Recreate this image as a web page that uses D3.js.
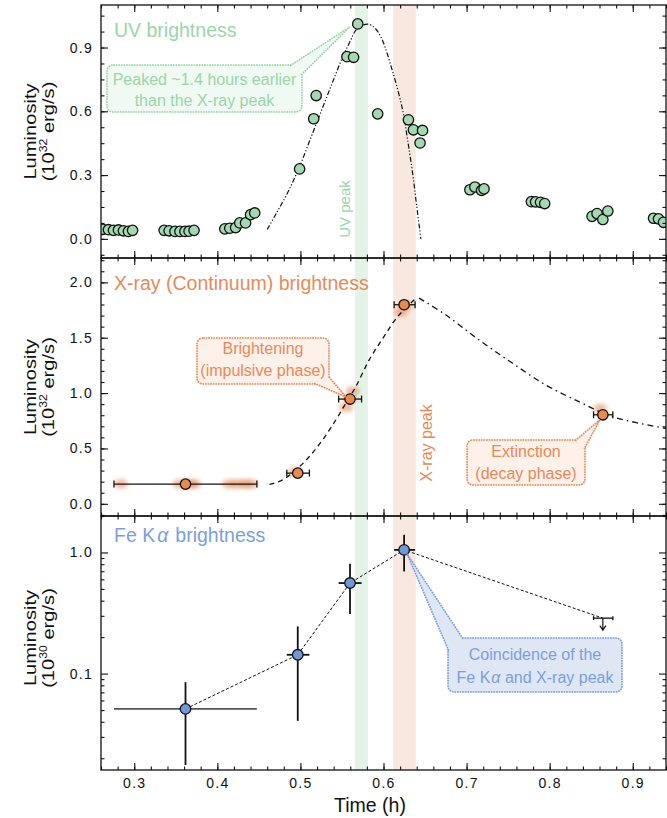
<!DOCTYPE html>
<html>
<head>
<meta charset="utf-8">
<script src="https://cdn.jsdelivr.net/npm/d3@7"></script>
<style>
  body { margin: 0; background: #fff; }
  svg text { font-family: "Liberation Sans", Arial, sans-serif; }
</style>
</head>
<body>
<svg id="chart" width="667" height="818"></svg>
<script>
// ---- UV light curve (10^32 erg/s) ----
var uvTime = [0.262, 0.269, 0.275, 0.281, 0.287, 0.293, 0.298,
              0.336, 0.342, 0.349, 0.355, 0.361, 0.366, 0.372,
              0.409, 0.415, 0.422, 0.427, 0.434, 0.440, 0.445,
              0.499, 0.516, 0.519, 0.556, 0.564, 0.569, 0.593,
              0.630, 0.636, 0.647, 0.644,
              0.704, 0.710, 0.718, 0.721,
              0.778, 0.783, 0.789, 0.794,
              0.851, 0.857, 0.864, 0.870,
              0.925, 0.931, 0.937];
var uvLum = [0.045, 0.043, 0.040, 0.042, 0.038, 0.035, 0.040,
             0.040, 0.038, 0.035, 0.035, 0.035, 0.036, 0.040,
             0.047, 0.050, 0.053, 0.075, 0.075, 0.114, 0.122,
             0.329, 0.565, 0.674, 0.857, 0.854, 1.011, 0.588,
             0.560, 0.513, 0.510, 0.451,
             0.231, 0.244, 0.228, 0.235,
             0.175, 0.174, 0.172, 0.166,
             0.106, 0.119, 0.091, 0.131,
             0.097, 0.094, 0.078];
// model curve
var uvModelTime = [0.460, 0.471, 0.485, 0.499, 0.513, 0.527, 0.540, 0.551, 0.560, 0.567,
                   0.575, 0.582, 0.590, 0.598, 0.611, 0.623, 0.629, 0.635, 0.640, 0.645];
var uvModelLum = [0.044, 0.120, 0.220, 0.340, 0.480, 0.620, 0.750, 0.857, 0.930, 0.983,
                  1.005, 1.010, 0.990, 0.940, 0.787, 0.607, 0.466, 0.310, 0.153, 0.000];

// ---- X-ray continuum (10^32 erg/s) ----
var xrayTime = [0.3617, 0.4968, 0.5597, 0.6248, 0.864];
var xrayLum = [0.178, 0.277, 0.946, 1.798, 0.804];
var xrayTimeLo = [0.2756, 0.4836, 0.5460, 0.6128, 0.8528];
var xrayTimeHi = [0.4476, 0.5108, 0.5736, 0.6380, 0.8760];
// finer bins (blurred blobs behind the points)
var xraySubTime = [0.284, 0.355, 0.366, 0.372, 0.414, 0.424, 0.433, 0.441, 0.494, 0.555, 0.559, 0.563, 0.621, 0.627, 0.861];
var xraySubLum = [0.18, 0.18, 0.18, 0.18, 0.18, 0.18, 0.18, 0.18, 0.29, 0.87, 0.95, 1.02, 1.73, 1.79, 0.86];
// rise (dashed) and decay (dash-dot) model curves
var xrayRiseTime = [0.4628, 0.4788, 0.4948, 0.5108, 0.5268, 0.5428, 0.5548, 0.5668, 0.5828, 0.5988, 0.6170, 0.6380];
var xrayRiseLum = [0.175, 0.217, 0.307, 0.427, 0.578, 0.759, 0.910, 1.060, 1.300, 1.490, 1.690, 1.850];
var xrayDecayTime = [0.6428, 0.6748, 0.7148, 0.7550, 0.7948, 0.8348, 0.8748, 0.9400];
var xrayDecayLum = [1.858, 1.707, 1.481, 1.271, 1.075, 0.924, 0.789, 0.680];

// ---- Fe K alpha line (10^30 erg/s) ----
var feTime = [0.3617, 0.4968, 0.5597, 0.6248];
var feLum = [0.0511, 0.143, 0.559, 1.05];
var feTimeLo = [0.2756, 0.4836, 0.5460, 0.6128];
var feTimeHi = [0.4476, 0.5108, 0.5736, 0.6380];
var feLumLo = [0.0176, 0.0407, 0.310, 0.697];
var feLumHi = [0.0849, 0.245, 0.806, 1.40];
var feLimitTime = [0.864];
var feLimitTimeLo = [0.8528];
var feLimitTimeHi = [0.876];
var feLimitLum = [0.287];

// shaded peak windows
var uvPeakBand = [0.5656, 0.5812];
var xrayPeakBand = [0.6116, 0.6389];

// ticks
var timeTicks = [0.3, 0.4, 0.5, 0.6, 0.7, 0.8, 0.9];
var uvTicks = [0.0, 0.3, 0.6, 0.9];
var xrayTicks = [0.0, 0.5, 1.0, 1.5, 2.0];
var feTicks = [0.1, 1.0];
var feMinorTicks = [0.02, 0.03, 0.04, 0.05, 0.06, 0.07, 0.08, 0.09,
                    0.2, 0.3, 0.4, 0.5, 0.6, 0.7, 0.8, 0.9, 2.0];

var GREEN = "#9bd5ab", GREEN_FILL = "#a3d8b2", GREEN_BAND = "#e4f3e7";
var ORANGE = "#e8895a", ORANGE_FILL = "#e98a52", ORANGE_BAND = "#f9e8e0";
var BLUE = "#7a9fdc", BLUE_FILL = "#7098d8";

var svg = d3.select("#chart");
var left = 101, right = 666;

var x = d3.scaleLinear().domain([0.26, 0.94]).range([left, right]);

var panels = [
  { id: "uv", top: 5, bottom: 258 },
  { id: "xray", top: 258, bottom: 516 },
  { id: "fe", top: 516, bottom: 770 }
];
var yUV = d3.scaleLinear().domain([-0.09, 1.1]).range([258, 5]);
var yX = d3.scaleLinear().domain([-0.11, 2.22]).range([516, 258]);
var yFe = d3.scaleLog().domain([0.016, 2.0]).range([770, 516]);

var defs = svg.append("defs");
defs.append("filter").attr("id", "smudge")
    .attr("x", "-50%").attr("y", "-50%").attr("width", "200%").attr("height", "200%")
  .append("feGaussianBlur").attr("stdDeviation", 2);

panels.forEach(function(p){
  defs.append("clipPath").attr("id", "clip-" + p.id)
    .append("rect")
    .attr("x", left).attr("y", p.top)
    .attr("width", right - left).attr("height", p.bottom - p.top);
});

// background bands across all panels
panels.forEach(function(p){
  var g = svg.append("g");
  [[uvPeakBand, GREEN_BAND], [xrayPeakBand, ORANGE_BAND]].forEach(function(b){
    g.append("rect")
      .attr("x", x(b[0][0])).attr("width", x(b[0][1]) - x(b[0][0]))
      .attr("y", p.top).attr("height", p.bottom - p.top)
      .attr("fill", b[1]);
  });
});

/**
 * Draws inward ticks on all four sides of a panel.
 */
function drawFrame(p, y, majorY, minorY, fmt, showX){
  var g = svg.append("g");
  function ax(gen, tx, ty){
    var a = g.append("g").attr("transform", "translate(" + tx + "," + ty + ")").call(gen);
    a.select(".domain").remove();
    a.selectAll(".tick line").attr("stroke", "#111").attr("stroke-width", 1.1);
    return a;
  }
  var xMinor = d3.range(0.26, 0.9401, 0.02);
  ax(d3.axisBottom(x).tickValues(xMinor).tickSize(-3.5).tickFormat(""), 0, p.bottom);
  ax(d3.axisTop(x).tickValues(xMinor).tickSize(-3.5).tickFormat(""), 0, p.top);
  ax(d3.axisTop(x).tickValues(timeTicks).tickSize(-7).tickFormat(""), 0, p.top);
  var xb = ax(d3.axisBottom(x).tickValues(timeTicks).tickSize(-7).tickPadding(8)
             .tickFormat(showX ? d3.format(".1f") : ""), 0, p.bottom);
  xb.selectAll("text").attr("font-size", 14).attr("letter-spacing", "1.3px")
    .attr("fill", "#111").style("font-family", "'Liberation Sans', Arial, sans-serif");

  ax(d3.axisLeft(y).tickValues(minorY).tickSize(-3.5).tickFormat(""), left, 0);
  ax(d3.axisRight(y).tickValues(minorY).tickSize(-3.5).tickFormat(""), right, 0);
  ax(d3.axisRight(y).tickValues(majorY).tickSize(-7).tickFormat(""), right, 0);
  var yl = ax(d3.axisLeft(y).tickValues(majorY).tickSize(-7).tickPadding(8).tickFormat(fmt), left, 0);
  yl.selectAll("text").attr("font-size", 14).attr("letter-spacing", "1.3px")
    .attr("fill", "#111").style("font-family", "'Liberation Sans', Arial, sans-serif");

  g.append("rect")
    .attr("x", left).attr("y", p.top)
    .attr("width", right - left).attr("height", p.bottom - p.top)
    .attr("fill", "none").attr("stroke", "#111").attr("stroke-width", 1.3);
}

function yLabel(cy, exp){
  var g = svg.append("g").attr("fill", "#111");
  g.append("text")
    .attr("transform", "translate(35.5," + cy + ") rotate(-90) scale(1.22,1)")
    .attr("text-anchor", "middle").attr("font-size", 16.5)
    .text("Luminosity");
  var t = g.append("text")
    .attr("transform", "translate(53.5," + cy + ") rotate(-90) scale(1.22,1)")
    .attr("text-anchor", "middle").attr("font-size", 16.5);
  t.append("tspan").text("(10");
  t.append("tspan").attr("font-size", 10).attr("dy", -6.5).text(exp);
  t.append("tspan").attr("dy", 6.5).text(" erg/s)");
}

/**
 * Speech-bubble style annotation: box, wedge pointing at tip, text lines.
 */
function callout(box, wedge, lines, stroke, fill, textColor){
  var g = svg.append("g");
  g.append("rect")
    .attr("x", box.x0).attr("y", box.y0)
    .attr("width", box.x1 - box.x0).attr("height", box.y1 - box.y0)
    .attr("rx", 6)
    .attr("fill", fill).attr("stroke", stroke)
    .attr("stroke-width", 1.6).attr("stroke-dasharray", "1.8,0.8");
  g.append("path")
    .attr("d", "M" + wedge[0] + "L" + wedge[1] + "L" + wedge[2])
    .attr("fill", fill).attr("stroke", stroke)
    .attr("stroke-width", 1.6).attr("stroke-dasharray", "1.8,0.8");
  var cx = (box.x0 + box.x1) / 2;
  lines.forEach(function(l){
    var t = g.append("text")
      .attr("x", cx).attr("y", box.y0 + l.dy)
      .attr("text-anchor", "middle").attr("font-size", 16)
      .attr("fill", textColor);
    l.parts.forEach(function(pt){
      var s = t.append("tspan").text(pt.text);
      if (pt.italic) s.attr("font-style", "italic").attr("dx", 1);
    });
  });
}

// ================= Panel 1 : UV =================
var p1 = panels[0];
var g1 = svg.append("g").attr("clip-path", "url(#clip-uv)");

g1.append("text")
  .attr("transform", "translate(350,209) rotate(-90)")
  .attr("text-anchor", "middle").attr("font-size", 15)
  .attr("fill", GREEN).text("UV peak");

var uvModel = d3.range(uvModelTime.length).map(function(i){ return [uvModelTime[i], uvModelLum[i]]; });
g1.append("path")
  .attr("d", d3.line().x(function(d){ return x(d[0]); }).y(function(d){ return yUV(d[1]); })
              .curve(d3.curveCatmullRom)(uvModel))
  .attr("fill", "none").attr("stroke", "#111").attr("stroke-width", 1.2)
  .attr("stroke-dasharray", "5,2,1.2,2,1.2,2");

g1.selectAll("circle.uv")
  .data(d3.range(uvTime.length))
  .enter().append("circle")
  .attr("class", "uv")
  .attr("cx", function(i){ return x(uvTime[i]); })
  .attr("cy", function(i){ return yUV(uvLum[i]); })
  .attr("r", 5.2)
  .attr("fill", GREEN_FILL).attr("stroke", "#111").attr("stroke-width", 1.3);

drawFrame(p1, yUV, uvTicks, d3.range(-0.075, 1.1, 0.075), d3.format(".1f"), false);
yLabel((p1.top + p1.bottom) / 2, "32");

svg.append("text").attr("x", 114).attr("y", 37)
  .attr("font-size", 19.5).attr("fill", GREEN).text("UV brightness");

var uvPeakIdx = uvLum.indexOf(d3.max(uvLum));
var tipUV = [x(uvTime[uvPeakIdx]) - 8, yUV(uvLum[uvPeakIdx]) + 3];
callout({x0: 107, y0: 65, x1: 302, y1: 112},
        [[290, 65.8], tipUV, [301.2, 75]],
        [{dy: 19.5, parts: [{text: "Peaked ~1.4 hours earlier"}]},
         {dy: 41, parts: [{text: "than the X-ray peak"}]}],
        GREEN, "#f0f9f2", GREEN);

// ================= Panel 2 : X-ray =================
var p2 = panels[1];
var g2 = svg.append("g").attr("clip-path", "url(#clip-xray)");

g2.append("text")
  .attr("transform", "translate(432,443) rotate(-90)")
  .attr("text-anchor", "middle").attr("font-size", 16)
  .attr("fill", ORANGE).text("X-ray peak");

g2.selectAll("ellipse.sub")
  .data(d3.range(xraySubTime.length))
  .enter().append("ellipse")
  .attr("cx", function(i){ return x(xraySubTime[i]); })
  .attr("cy", function(i){ return yX(xraySubLum[i]); })
  .attr("rx", 7).attr("ry", 4.5)
  .attr("fill", "#e0824a").attr("opacity", 0.55)
  .attr("filter", "url(#smudge)");

var lineX = d3.line().x(function(d){ return x(d[0]); }).y(function(d){ return yX(d[1]); })
  .curve(d3.curveCatmullRom);
g2.append("path")
  .attr("d", lineX(d3.range(xrayRiseTime.length).map(function(i){ return [xrayRiseTime[i], xrayRiseLum[i]]; })))
  .attr("fill", "none").attr("stroke", "#111").attr("stroke-width", 1.3)
  .attr("stroke-dasharray", "5,4");
g2.append("path")
  .attr("d", lineX(d3.range(xrayDecayTime.length).map(function(i){ return [xrayDecayTime[i], xrayDecayLum[i]]; })))
  .attr("fill", "none").attr("stroke", "#111").attr("stroke-width", 1.3)
  .attr("stroke-dasharray", "6,4,1.5,4");

var eb = g2.selectAll("g.eb").data(d3.range(xrayTime.length)).enter().append("g");
eb.append("line")
  .attr("x1", function(i){ return x(xrayTimeLo[i]); })
  .attr("x2", function(i){ return x(xrayTimeHi[i]); })
  .attr("y1", function(i){ return yX(xrayLum[i]); })
  .attr("y2", function(i){ return yX(xrayLum[i]); })
  .attr("stroke", "#111").attr("stroke-width", 1.3);
[xrayTimeLo, xrayTimeHi].forEach(function(arr){
  eb.append("line")
    .attr("x1", function(i){ return x(arr[i]); })
    .attr("x2", function(i){ return x(arr[i]); })
    .attr("y1", function(i){ return yX(xrayLum[i]) - 3.5; })
    .attr("y2", function(i){ return yX(xrayLum[i]) + 3.5; })
    .attr("stroke", "#111").attr("stroke-width", 1.3);
});
eb.append("circle")
  .attr("cx", function(i){ return x(xrayTime[i]); })
  .attr("cy", function(i){ return yX(xrayLum[i]); })
  .attr("r", 5.2)
  .attr("fill", ORANGE_FILL).attr("stroke", "#111").attr("stroke-width", 1.3);

drawFrame(p2, yX, xrayTicks, d3.range(-0.1, 2.25, 0.1), d3.format(".1f"), false);
yLabel((p2.top + p2.bottom) / 2, "32");

svg.append("text").attr("x", 114).attr("y", 290)
  .attr("font-size", 19.5).attr("fill", ORANGE).text("X-ray (Continuum) brightness");

callout({x0: 197, y0: 338, x1: 329, y1: 384},
        [[314, 383.2], [x(xrayTime[2]) - 4, yX(xrayLum[2]) - 2], [328.2, 376]],
        [{dy: 16, parts: [{text: "Brightening"}]},
         {dy: 37.5, parts: [{text: "(impulsive phase)"}]}],
        ORANGE, "#fdf1ea", ORANGE);

callout({x0: 467, y0: 440, x1: 585, y1: 485},
        [[575, 440.8], [x(xrayTime[4]) - 3, yX(xrayLum[4]) + 5], [584.2, 449]],
        [{dy: 17, parts: [{text: "Extinction"}]},
         {dy: 38.5, parts: [{text: "(decay phase)"}]}],
        ORANGE, "#fdf1ea", ORANGE);

// ================= Panel 3 : Fe K alpha =================
var p3 = panels[2];
var g3 = svg.append("g").attr("clip-path", "url(#clip-fe)");

var fePts = d3.range(feTime.length).map(function(i){ return [feTime[i], feLum[i]]; });
fePts.push([feLimitTime[0], feLimitLum[0]]);
g3.append("path")
  .attr("d", d3.line().x(function(d){ return x(d[0]); }).y(function(d){ return yFe(d[1]); })(fePts))
  .attr("fill", "none").attr("stroke", "#111").attr("stroke-width", 1)
  .attr("stroke-dasharray", "3,2");

var fe = g3.selectAll("g.fe").data(d3.range(feTime.length)).enter().append("g");
fe.append("line")
  .attr("x1", function(i){ return x(feTimeLo[i]); })
  .attr("x2", function(i){ return x(feTimeHi[i]); })
  .attr("y1", function(i){ return yFe(feLum[i]); })
  .attr("y2", function(i){ return yFe(feLum[i]); })
  .attr("stroke", function(i){ return i === 0 ? "#555" : "#111"; })
  .attr("stroke-width", 1.8);
fe.append("line")
  .attr("x1", function(i){ return x(feTime[i]); })
  .attr("x2", function(i){ return x(feTime[i]); })
  .attr("y1", function(i){ return yFe(feLumLo[i]); })
  .attr("y2", function(i){ return yFe(feLumHi[i]); })
  .attr("stroke", "#111").attr("stroke-width", 1.8);
fe.append("circle")
  .attr("cx", function(i){ return x(feTime[i]); })
  .attr("cy", function(i){ return yFe(feLum[i]); })
  .attr("r", 5.3)
  .attr("fill", BLUE_FILL).attr("stroke", "#111").attr("stroke-width", 1.3);

// upper limit
var ly = yFe(feLimitLum[0]), lx = x(feLimitTime[0]);
g3.append("line")
  .attr("x1", x(feLimitTimeLo[0])).attr("x2", x(feLimitTimeHi[0]))
  .attr("y1", ly).attr("y2", ly)
  .attr("stroke", "#111").attr("stroke-width", 1.3);
[feLimitTimeLo[0], feLimitTimeHi[0]].forEach(function(t){
  g3.append("line").attr("x1", x(t)).attr("x2", x(t))
    .attr("y1", ly - 2).attr("y2", ly + 2)
    .attr("stroke", "#111").attr("stroke-width", 1.3);
});
g3.append("path")
  .attr("d", "M" + lx + "," + ly + "V" + (ly + 12) + "M" + (lx - 3) + "," + (ly + 7.5) +
             "L" + lx + "," + (ly + 12) + "L" + (lx + 3) + "," + (ly + 7.5))
  .attr("fill", "none").attr("stroke", "#111").attr("stroke-width", 1.2);

drawFrame(p3, yFe, feTicks, feMinorTicks, d3.format(".1f"), true);
yLabel(638, "30");

var feTitle = svg.append("text").attr("x", 114).attr("y", 542)
  .attr("font-size", 19.5).attr("fill", BLUE);
feTitle.append("tspan").text("Fe K");
feTitle.append("tspan").attr("font-style", "italic").attr("dx", 2).text("α");
feTitle.append("tspan").attr("dx", 7).text("brightness");

callout({x0: 448, y0: 638, x1: 622, y1: 692},
        [[463, 638.8], [x(feTime[3]) + 3, yFe(feLum[3]) + 4], [448.8, 651]],
        [{dy: 22, parts: [{text: "Coincidence of the"}]},
         {dy: 44.5, parts: [{text: "Fe K"}, {text: "α", italic: true}, {text: " and X-ray peak"}]}],
        BLUE, "#dfe7f5", BLUE);

// x-axis title
svg.append("text").attr("x", 370).attr("y", 812)
  .attr("text-anchor", "middle").attr("font-size", 19.5)
  .attr("fill", "#111").text("Time (h)");
</script>
</body>
</html>
